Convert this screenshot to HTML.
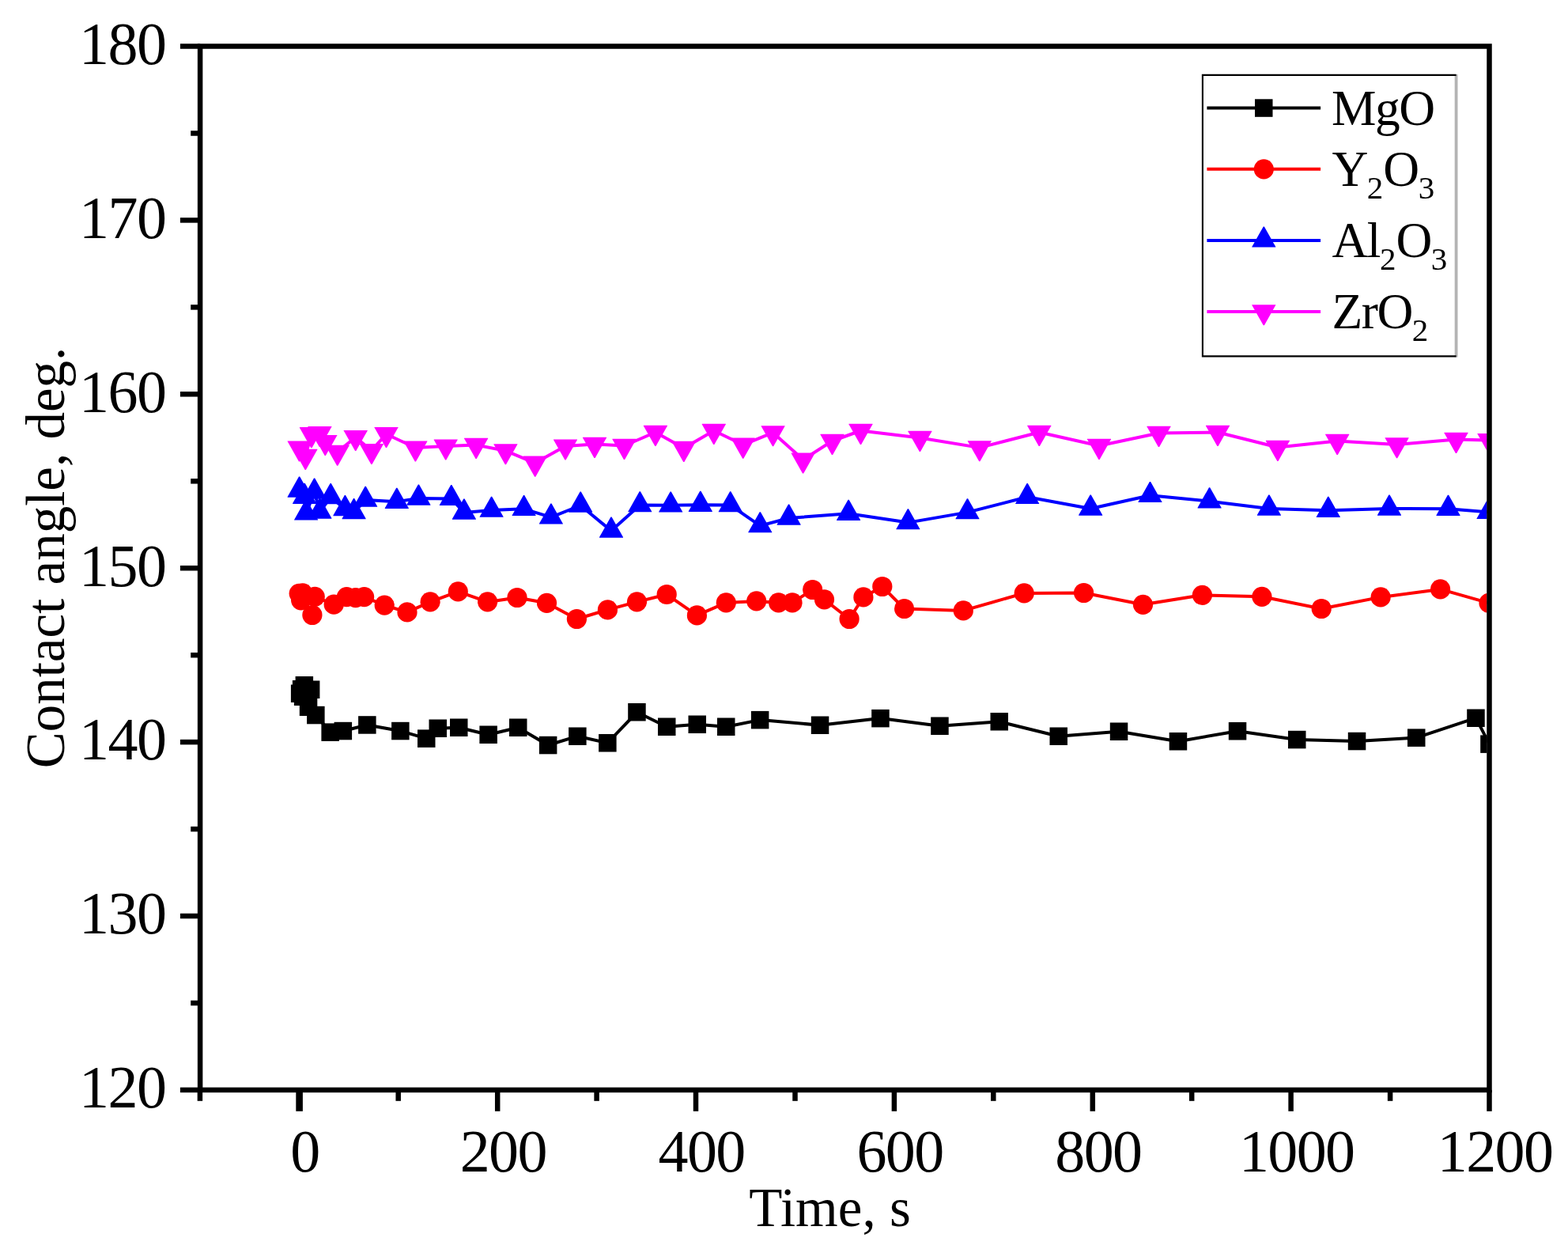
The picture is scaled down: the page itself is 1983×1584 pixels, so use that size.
<!DOCTYPE html>
<html lang="en"><head><meta charset="utf-8"><title>Contact angle vs. time</title>
<style>
html,body{margin:0;padding:0;background:#fff;overflow:hidden;}
body{width:1983px;height:1584px;overflow:hidden;}
svg{display:block;}
text{font-family:"Liberation Serif",serif;fill:#000;}
.tick{font-size:76px;letter-spacing:-1.6px;}
.axis{font-size:69px;}
.leg{font-size:63.5px;letter-spacing:-1.5px;}
.sub{font-size:41px;letter-spacing:0;}
</style></head><body>
<svg width="1983" height="1584" viewBox="0 0 1983 1584">
<rect x="0" y="0" width="1983" height="1584" fill="#fff"/>
<defs><clipPath id="plot"><rect x="253.1" y="58.5" width="1627.4" height="1319.4"/></clipPath></defs>
<g clip-path="url(#plot)">
<g id="mgo" fill="#000000" stroke="none">
<polyline points="379.1,876.7 381.1,871.2 384.8,866.3 383.1,880.7 393.1,871.7 390,893.7 399.4,904 417.7,925.6 433.9,924 464.4,916.5 506.3,924 539.3,933.6 553.7,920.7 580.3,919.7 617.6,928.7 655.2,919.7 693.1,942 730.4,930.7 768.4,939.2 805.5,900.3 843.2,918.7 881.8,915.7 918.3,918.7 961.1,910.1 1037.1,916.7 1113.4,908.1 1188.5,917.7 1263.8,912.3 1338.7,930.7 1415,924.7 1489.9,937.2 1565,924.3 1640.2,935 1716.1,937 1791.2,932.6 1866.5,907.7 1883.5,940.6" fill="none" stroke="#000000" stroke-width="4.0" stroke-linejoin="round"/>
<rect x="367.9" y="865.5" width="22.5" height="22.5"/>
<rect x="369.9" y="860" width="22.5" height="22.5"/>
<rect x="373.6" y="855" width="22.5" height="22.5"/>
<rect x="371.9" y="869.5" width="22.5" height="22.5"/>
<rect x="381.9" y="860.5" width="22.5" height="22.5"/>
<rect x="378.8" y="882.5" width="22.5" height="22.5"/>
<rect x="388.1" y="892.8" width="22.5" height="22.5"/>
<rect x="406.4" y="914.4" width="22.5" height="22.5"/>
<rect x="422.6" y="912.8" width="22.5" height="22.5"/>
<rect x="453.1" y="905.2" width="22.5" height="22.5"/>
<rect x="495.1" y="912.8" width="22.5" height="22.5"/>
<rect x="528" y="922.4" width="22.5" height="22.5"/>
<rect x="542.5" y="909.5" width="22.5" height="22.5"/>
<rect x="569" y="908.5" width="22.5" height="22.5"/>
<rect x="606.4" y="917.5" width="22.5" height="22.5"/>
<rect x="644" y="908.5" width="22.5" height="22.5"/>
<rect x="681.9" y="930.8" width="22.5" height="22.5"/>
<rect x="719.1" y="919.5" width="22.5" height="22.5"/>
<rect x="757.1" y="928" width="22.5" height="22.5"/>
<rect x="794.2" y="889" width="22.5" height="22.5"/>
<rect x="832" y="907.5" width="22.5" height="22.5"/>
<rect x="870.5" y="904.5" width="22.5" height="22.5"/>
<rect x="907" y="907.5" width="22.5" height="22.5"/>
<rect x="949.9" y="898.9" width="22.5" height="22.5"/>
<rect x="1025.8" y="905.5" width="22.5" height="22.5"/>
<rect x="1102.2" y="896.9" width="22.5" height="22.5"/>
<rect x="1177.2" y="906.5" width="22.5" height="22.5"/>
<rect x="1252.5" y="901" width="22.5" height="22.5"/>
<rect x="1327.5" y="919.5" width="22.5" height="22.5"/>
<rect x="1403.8" y="913.5" width="22.5" height="22.5"/>
<rect x="1478.7" y="926" width="22.5" height="22.5"/>
<rect x="1553.8" y="913" width="22.5" height="22.5"/>
<rect x="1629" y="923.8" width="22.5" height="22.5"/>
<rect x="1704.8" y="925.8" width="22.5" height="22.5"/>
<rect x="1780" y="921.4" width="22.5" height="22.5"/>
<rect x="1855.2" y="896.5" width="22.5" height="22.5"/>
<rect x="1872.2" y="929.4" width="22.5" height="22.5"/>
</g>
<g id="y2o3" fill="#ff0000" stroke="none">
<polyline points="378.2,750.3 382.8,749.9 380.6,758.8 394.9,777.5 398.2,754.3 422.2,764.2 438.4,754.7 449.7,755.7 460.6,754.6 486.2,765.1 515,773.9 544.1,760.9 579.3,747.9 616.6,760.9 654,755.5 691.5,762.3 729.4,782.5 768.4,770.9 805.5,760.9 843.2,751.5 881.4,777.9 918.3,761.9 956.7,759.9 984.6,761.9 1002,761.9 1027.6,745.5 1042.5,757.9 1074.1,782.5 1091.9,754.9 1115.8,741.5 1143.6,769.5 1218.3,771.9 1295.2,749.9 1370.6,749.5 1445.5,764.3 1520.4,752.3 1595.9,754.3 1671.2,769.5 1746.1,754.9 1821.6,744.9 1883,762.3" fill="none" stroke="#ff0000" stroke-width="4.0" stroke-linejoin="round"/>
<circle cx="378.2" cy="750.3" r="12.6"/>
<circle cx="382.8" cy="749.9" r="12.6"/>
<circle cx="380.6" cy="758.8" r="12.6"/>
<circle cx="394.9" cy="777.5" r="12.6"/>
<circle cx="398.2" cy="754.3" r="12.6"/>
<circle cx="422.2" cy="764.2" r="12.6"/>
<circle cx="438.4" cy="754.7" r="12.6"/>
<circle cx="449.7" cy="755.7" r="12.6"/>
<circle cx="460.6" cy="754.6" r="12.6"/>
<circle cx="486.2" cy="765.1" r="12.6"/>
<circle cx="515" cy="773.9" r="12.6"/>
<circle cx="544.1" cy="760.9" r="12.6"/>
<circle cx="579.3" cy="747.9" r="12.6"/>
<circle cx="616.6" cy="760.9" r="12.6"/>
<circle cx="654" cy="755.5" r="12.6"/>
<circle cx="691.5" cy="762.3" r="12.6"/>
<circle cx="729.4" cy="782.5" r="12.6"/>
<circle cx="768.4" cy="770.9" r="12.6"/>
<circle cx="805.5" cy="760.9" r="12.6"/>
<circle cx="843.2" cy="751.5" r="12.6"/>
<circle cx="881.4" cy="777.9" r="12.6"/>
<circle cx="918.3" cy="761.9" r="12.6"/>
<circle cx="956.7" cy="759.9" r="12.6"/>
<circle cx="984.6" cy="761.9" r="12.6"/>
<circle cx="1002" cy="761.9" r="12.6"/>
<circle cx="1027.6" cy="745.5" r="12.6"/>
<circle cx="1042.5" cy="757.9" r="12.6"/>
<circle cx="1074.1" cy="782.5" r="12.6"/>
<circle cx="1091.9" cy="754.9" r="12.6"/>
<circle cx="1115.8" cy="741.5" r="12.6"/>
<circle cx="1143.6" cy="769.5" r="12.6"/>
<circle cx="1218.3" cy="771.9" r="12.6"/>
<circle cx="1295.2" cy="749.9" r="12.6"/>
<circle cx="1370.6" cy="749.5" r="12.6"/>
<circle cx="1445.5" cy="764.3" r="12.6"/>
<circle cx="1520.4" cy="752.3" r="12.6"/>
<circle cx="1595.9" cy="754.3" r="12.6"/>
<circle cx="1671.2" cy="769.5" r="12.6"/>
<circle cx="1746.1" cy="754.9" r="12.6"/>
<circle cx="1821.6" cy="744.9" r="12.6"/>
<circle cx="1883" cy="762.3" r="12.6"/>
</g>
<g id="al2o3" fill="#0000ff" stroke="none">
<polyline points="378.6,620 385.1,628.2 387.1,648.9 397.6,622 404.4,647 418.2,628.5 436.4,643.5 447.6,647.5 462.2,632.1 501.8,634.2 529.4,630 570.8,630.4 586.9,648 621.6,645.1 662.6,643.3 696.9,653.8 734.2,639 773,671 809.3,638.6 848.2,638.8 885.8,638.2 923.7,638.6 961.3,664.6 997.6,655 1073.1,649.2 1148.4,660.6 1223.5,647.6 1299.2,628.3 1379.2,643 1454.5,626.3 1529.6,633.7 1604.9,643 1679.8,645.2 1757,643 1831.5,643.2 1882.5,647.4" fill="none" stroke="#0000ff" stroke-width="4.0" stroke-linejoin="round"/>
<polygon points="378,602.6 379.2,602.6 393.6,628.1 393.6,628.7 363.6,628.7 363.6,628.1"/>
<polygon points="384.5,610.8 385.7,610.8 400.1,636.3 400.1,636.9 370.1,636.9 370.1,636.3"/>
<polygon points="386.5,631.5 387.7,631.5 402.1,657 402.1,657.6 372.1,657.6 372.1,657"/>
<polygon points="397,604.6 398.2,604.6 412.6,630.1 412.6,630.7 382.6,630.7 382.6,630.1"/>
<polygon points="403.8,629.6 405,629.6 419.4,655.1 419.4,655.7 389.4,655.7 389.4,655.1"/>
<polygon points="417.6,611.1 418.8,611.1 433.2,636.6 433.2,637.2 403.2,637.2 403.2,636.6"/>
<polygon points="435.8,626.1 437,626.1 451.4,651.6 451.4,652.2 421.4,652.2 421.4,651.6"/>
<polygon points="447,630.1 448.2,630.1 462.6,655.6 462.6,656.2 432.6,656.2 432.6,655.6"/>
<polygon points="461.6,614.7 462.8,614.7 477.2,640.2 477.2,640.8 447.2,640.8 447.2,640.2"/>
<polygon points="501.2,616.8 502.4,616.8 516.8,642.3 516.8,642.9 486.8,642.9 486.8,642.3"/>
<polygon points="528.8,612.6 530,612.6 544.4,638.1 544.4,638.7 514.4,638.7 514.4,638.1"/>
<polygon points="570.2,613 571.4,613 585.8,638.5 585.8,639.1 555.8,639.1 555.8,638.5"/>
<polygon points="586.3,630.6 587.5,630.6 601.9,656.1 601.9,656.7 571.9,656.7 571.9,656.1"/>
<polygon points="621,627.7 622.2,627.7 636.6,653.2 636.6,653.8 606.6,653.8 606.6,653.2"/>
<polygon points="662,625.9 663.2,625.9 677.6,651.4 677.6,652 647.6,652 647.6,651.4"/>
<polygon points="696.3,636.4 697.5,636.4 711.9,661.9 711.9,662.5 681.9,662.5 681.9,661.9"/>
<polygon points="733.6,621.6 734.8,621.6 749.2,647.1 749.2,647.7 719.2,647.7 719.2,647.1"/>
<polygon points="772.4,653.6 773.6,653.6 788,679.1 788,679.7 758,679.7 758,679.1"/>
<polygon points="808.7,621.2 809.9,621.2 824.3,646.7 824.3,647.3 794.3,647.3 794.3,646.7"/>
<polygon points="847.6,621.4 848.8,621.4 863.2,646.9 863.2,647.5 833.2,647.5 833.2,646.9"/>
<polygon points="885.2,620.8 886.4,620.8 900.8,646.3 900.8,646.9 870.8,646.9 870.8,646.3"/>
<polygon points="923.1,621.2 924.3,621.2 938.7,646.7 938.7,647.3 908.7,647.3 908.7,646.7"/>
<polygon points="960.7,647.2 961.9,647.2 976.3,672.7 976.3,673.3 946.3,673.3 946.3,672.7"/>
<polygon points="997,637.6 998.2,637.6 1012.6,663.1 1012.6,663.7 982.6,663.7 982.6,663.1"/>
<polygon points="1072.5,631.8 1073.7,631.8 1088.1,657.3 1088.1,657.9 1058.1,657.9 1058.1,657.3"/>
<polygon points="1147.8,643.2 1149,643.2 1163.4,668.7 1163.4,669.3 1133.4,669.3 1133.4,668.7"/>
<polygon points="1222.9,630.2 1224.1,630.2 1238.5,655.7 1238.5,656.3 1208.5,656.3 1208.5,655.7"/>
<polygon points="1298.6,610.9 1299.8,610.9 1314.2,636.4 1314.2,637 1284.2,637 1284.2,636.4"/>
<polygon points="1378.6,625.6 1379.8,625.6 1394.2,651.1 1394.2,651.7 1364.2,651.7 1364.2,651.1"/>
<polygon points="1453.9,608.9 1455.1,608.9 1469.5,634.4 1469.5,635 1439.5,635 1439.5,634.4"/>
<polygon points="1529,616.3 1530.2,616.3 1544.6,641.8 1544.6,642.4 1514.6,642.4 1514.6,641.8"/>
<polygon points="1604.3,625.6 1605.5,625.6 1619.9,651.1 1619.9,651.7 1589.9,651.7 1589.9,651.1"/>
<polygon points="1679.2,627.8 1680.4,627.8 1694.8,653.3 1694.8,653.9 1664.8,653.9 1664.8,653.3"/>
<polygon points="1756.4,625.6 1757.6,625.6 1772,651.1 1772,651.7 1742,651.7 1742,651.1"/>
<polygon points="1830.9,625.8 1832.1,625.8 1846.5,651.3 1846.5,651.9 1816.5,651.9 1816.5,651.3"/>
<polygon points="1881.9,630 1883.1,630 1897.5,655.5 1897.5,656.1 1867.5,656.1 1867.5,655.5"/>
</g>
<g id="zro2" fill="#ff00ff" stroke="none">
<polyline points="378.6,566.2 386.3,576.5 393.9,548.8 404.4,547.6 411.3,558.6 426.7,571.4 449.7,552.7 469.9,569.7 488.5,548.7 525.4,566.1 563.7,564.1 602.1,562.5 639.4,569.9 676.7,585.3 715,564.1 752,561.5 789.5,563.5 828.9,546.5 864.8,566.5 902.8,544.5 939.7,562.3 977.6,546.9 1015.6,581.1 1052.5,557.5 1088.5,544.5 1163.4,553.5 1238.8,565.9 1314.3,546.5 1390,563.5 1465.5,547.5 1540,546.5 1615.9,565.5 1691.2,557.5 1766.6,561.9 1841.5,555.5 1883.5,556.6" fill="none" stroke="#ff00ff" stroke-width="4.0" stroke-linejoin="round"/>
<polygon points="378,583.6 379.2,583.6 393.6,558.1 393.6,557.5 363.6,557.5 363.6,558.1"/>
<polygon points="385.7,593.9 386.9,593.9 401.3,568.4 401.3,567.8 371.3,567.8 371.3,568.4"/>
<polygon points="393.3,566.2 394.5,566.2 408.9,540.7 408.9,540.1 378.9,540.1 378.9,540.7"/>
<polygon points="403.8,565 405,565 419.4,539.5 419.4,538.9 389.4,538.9 389.4,539.5"/>
<polygon points="410.7,576 411.9,576 426.3,550.5 426.3,549.9 396.3,549.9 396.3,550.5"/>
<polygon points="426.1,588.8 427.3,588.8 441.7,563.3 441.7,562.7 411.7,562.7 411.7,563.3"/>
<polygon points="449.1,570.1 450.3,570.1 464.7,544.6 464.7,544 434.7,544 434.7,544.6"/>
<polygon points="469.3,587.1 470.5,587.1 484.9,561.6 484.9,561 454.9,561 454.9,561.6"/>
<polygon points="487.9,566.1 489.1,566.1 503.5,540.6 503.5,540 473.5,540 473.5,540.6"/>
<polygon points="524.8,583.5 526,583.5 540.4,558 540.4,557.4 510.4,557.4 510.4,558"/>
<polygon points="563.1,581.5 564.3,581.5 578.7,556 578.7,555.4 548.7,555.4 548.7,556"/>
<polygon points="601.5,579.9 602.7,579.9 617.1,554.4 617.1,553.8 587.1,553.8 587.1,554.4"/>
<polygon points="638.8,587.3 640,587.3 654.4,561.8 654.4,561.2 624.4,561.2 624.4,561.8"/>
<polygon points="676.1,602.7 677.3,602.7 691.7,577.2 691.7,576.6 661.7,576.6 661.7,577.2"/>
<polygon points="714.4,581.5 715.6,581.5 730,556 730,555.4 700,555.4 700,556"/>
<polygon points="751.4,578.9 752.6,578.9 767,553.4 767,552.8 737,552.8 737,553.4"/>
<polygon points="788.9,580.9 790.1,580.9 804.5,555.4 804.5,554.8 774.5,554.8 774.5,555.4"/>
<polygon points="828.3,563.9 829.5,563.9 843.9,538.4 843.9,537.8 813.9,537.8 813.9,538.4"/>
<polygon points="864.2,583.9 865.4,583.9 879.8,558.4 879.8,557.8 849.8,557.8 849.8,558.4"/>
<polygon points="902.2,561.9 903.4,561.9 917.8,536.4 917.8,535.8 887.8,535.8 887.8,536.4"/>
<polygon points="939.1,579.7 940.3,579.7 954.7,554.2 954.7,553.6 924.7,553.6 924.7,554.2"/>
<polygon points="977,564.3 978.2,564.3 992.6,538.8 992.6,538.2 962.6,538.2 962.6,538.8"/>
<polygon points="1015,598.5 1016.2,598.5 1030.6,573 1030.6,572.4 1000.6,572.4 1000.6,573"/>
<polygon points="1051.9,574.9 1053.1,574.9 1067.5,549.4 1067.5,548.8 1037.5,548.8 1037.5,549.4"/>
<polygon points="1087.9,561.9 1089.1,561.9 1103.5,536.4 1103.5,535.8 1073.5,535.8 1073.5,536.4"/>
<polygon points="1162.8,570.9 1164,570.9 1178.4,545.4 1178.4,544.8 1148.4,544.8 1148.4,545.4"/>
<polygon points="1238.2,583.3 1239.4,583.3 1253.8,557.8 1253.8,557.2 1223.8,557.2 1223.8,557.8"/>
<polygon points="1313.7,563.9 1314.9,563.9 1329.3,538.4 1329.3,537.8 1299.3,537.8 1299.3,538.4"/>
<polygon points="1389.4,580.9 1390.6,580.9 1405,555.4 1405,554.8 1375,554.8 1375,555.4"/>
<polygon points="1464.9,564.9 1466.1,564.9 1480.5,539.4 1480.5,538.8 1450.5,538.8 1450.5,539.4"/>
<polygon points="1539.4,563.9 1540.6,563.9 1555,538.4 1555,537.8 1525,537.8 1525,538.4"/>
<polygon points="1615.3,582.9 1616.5,582.9 1630.9,557.4 1630.9,556.8 1600.9,556.8 1600.9,557.4"/>
<polygon points="1690.6,574.9 1691.8,574.9 1706.2,549.4 1706.2,548.8 1676.2,548.8 1676.2,549.4"/>
<polygon points="1766,579.3 1767.2,579.3 1781.6,553.8 1781.6,553.2 1751.6,553.2 1751.6,553.8"/>
<polygon points="1840.9,572.9 1842.1,572.9 1856.5,547.4 1856.5,546.8 1826.5,546.8 1826.5,547.4"/>
<polygon points="1882.9,574 1884.1,574 1898.5,548.5 1898.5,547.9 1868.5,547.9 1868.5,548.5"/>
</g>
</g>
<g stroke="#000" stroke-width="6.5" fill="none" stroke-linecap="butt">
<rect x="253.1" y="58.5" width="1630.4" height="1319.4"/>
<line x1="227.9" y1="1377.9" x2="253.1" y2="1377.9"/>
<line x1="241.2" y1="1268" x2="253.1" y2="1268"/>
<line x1="227.9" y1="1158" x2="253.1" y2="1158"/>
<line x1="241.2" y1="1048.1" x2="253.1" y2="1048.1"/>
<line x1="227.9" y1="938.1" x2="253.1" y2="938.1"/>
<line x1="241.2" y1="828.2" x2="253.1" y2="828.2"/>
<line x1="227.9" y1="718.2" x2="253.1" y2="718.2"/>
<line x1="241.2" y1="608.3" x2="253.1" y2="608.3"/>
<line x1="227.9" y1="498.3" x2="253.1" y2="498.3"/>
<line x1="241.2" y1="388.4" x2="253.1" y2="388.4"/>
<line x1="227.9" y1="278.4" x2="253.1" y2="278.4"/>
<line x1="241.2" y1="168.5" x2="253.1" y2="168.5"/>
<line x1="227.9" y1="58.5" x2="253.1" y2="58.5"/>
<line x1="252.9" y1="1377.9" x2="252.9" y2="1391.8"/>
<line x1="378.6" y1="1377.9" x2="378.6" y2="1404.8" stroke-width="8.6"/>
<line x1="503.7" y1="1377.9" x2="503.7" y2="1391.8"/>
<line x1="629.2" y1="1377.9" x2="629.2" y2="1404.8"/>
<line x1="754.6" y1="1377.9" x2="754.6" y2="1391.8"/>
<line x1="880" y1="1377.9" x2="880" y2="1404.8"/>
<line x1="1005.5" y1="1377.9" x2="1005.5" y2="1391.8"/>
<line x1="1130.9" y1="1377.9" x2="1130.9" y2="1404.8"/>
<line x1="1256.3" y1="1377.9" x2="1256.3" y2="1391.8"/>
<line x1="1381.8" y1="1377.9" x2="1381.8" y2="1404.8"/>
<line x1="1507.2" y1="1377.9" x2="1507.2" y2="1391.8"/>
<line x1="1632.6" y1="1377.9" x2="1632.6" y2="1404.8"/>
<line x1="1758.1" y1="1377.9" x2="1758.1" y2="1391.8"/>
<line x1="1883.5" y1="1377.9" x2="1883.5" y2="1404.8"/>
</g>
<g class="tick" text-anchor="end">
<text x="209.3" y="1400.2">120</text>
<text x="209.3" y="1180.3">130</text>
<text x="209.3" y="960.4">140</text>
<text x="209.3" y="740.5">150</text>
<text x="209.3" y="520.6">160</text>
<text x="209.3" y="300.7">170</text>
<text x="209.3" y="80.8">180</text>
</g>
<g class="tick" text-anchor="middle">
<text x="385.4" y="1480.6">0</text>
<text x="636.3" y="1480.6">200</text>
<text x="887.1" y="1480.6">400</text>
<text x="1138" y="1480.6">600</text>
<text x="1388.9" y="1480.6">800</text>
<text x="1639.7" y="1480.6">1000</text>
<text x="1890.6" y="1480.6">1200</text>
</g>
<text class="axis" text-anchor="middle" x="1049.5" y="1550">Time, s</text>
<text class="axis" text-anchor="middle" transform="translate(80.5 705) rotate(-90)">Contact angle, deg.</text>
<g id="legend">
<rect x="1521" y="95" width="320.5" height="355.4" fill="#fff" stroke="none"/>
<line x1="1841.6" y1="94" x2="1841.6" y2="451.4" stroke="#b4b4b4" stroke-width="3.8"/>
<polyline points="1841.6,94.9 1520.9,94.9 1520.9,450.4 1841.6,450.4" fill="none" stroke="#000" stroke-width="2.1" stroke-linejoin="miter"/>
<line x1="1526.4" y1="136.6" x2="1670.1" y2="136.6" stroke="#000000" stroke-width="4.0"/>
<rect x="1587" y="125.3" width="22.5" height="22.5" fill="#000000"/>
<line x1="1526.4" y1="213.8" x2="1670.1" y2="213.8" stroke="#ff0000" stroke-width="4.0"/>
<circle cx="1598.3" cy="213.8" r="12.6" fill="#ff0000"/>
<line x1="1526.4" y1="303.9" x2="1670.1" y2="303.9" stroke="#0000ff" stroke-width="4.0"/>
<polygon points="1597.7,286.5 1598.9,286.5 1613.3,312 1613.3,312.6 1583.3,312.6 1583.3,312" fill="#0000ff"/>
<line x1="1526.4" y1="393.9" x2="1670.1" y2="393.9" stroke="#ff00ff" stroke-width="4.0"/>
<polygon points="1597.7,411.3 1598.9,411.3 1613.3,385.8 1613.3,385.2 1583.3,385.2 1583.3,385.8" fill="#ff00ff"/>
<text class="leg" x="1684" y="158">MgO</text>
<text class="leg" x="1684.5" y="235">Y<tspan class="sub" dy="16">2</tspan><tspan dy="-16">O</tspan><tspan class="sub" dy="16">3</tspan></text>
<text class="leg" x="1684.5" y="325.4">Al<tspan class="sub" dy="16">2</tspan><tspan dy="-16">O</tspan><tspan class="sub" dy="16">3</tspan></text>
<text class="leg" x="1684.5" y="415.4">ZrO<tspan class="sub" dy="16">2</tspan></text>
</g>
</svg>
</body></html>
